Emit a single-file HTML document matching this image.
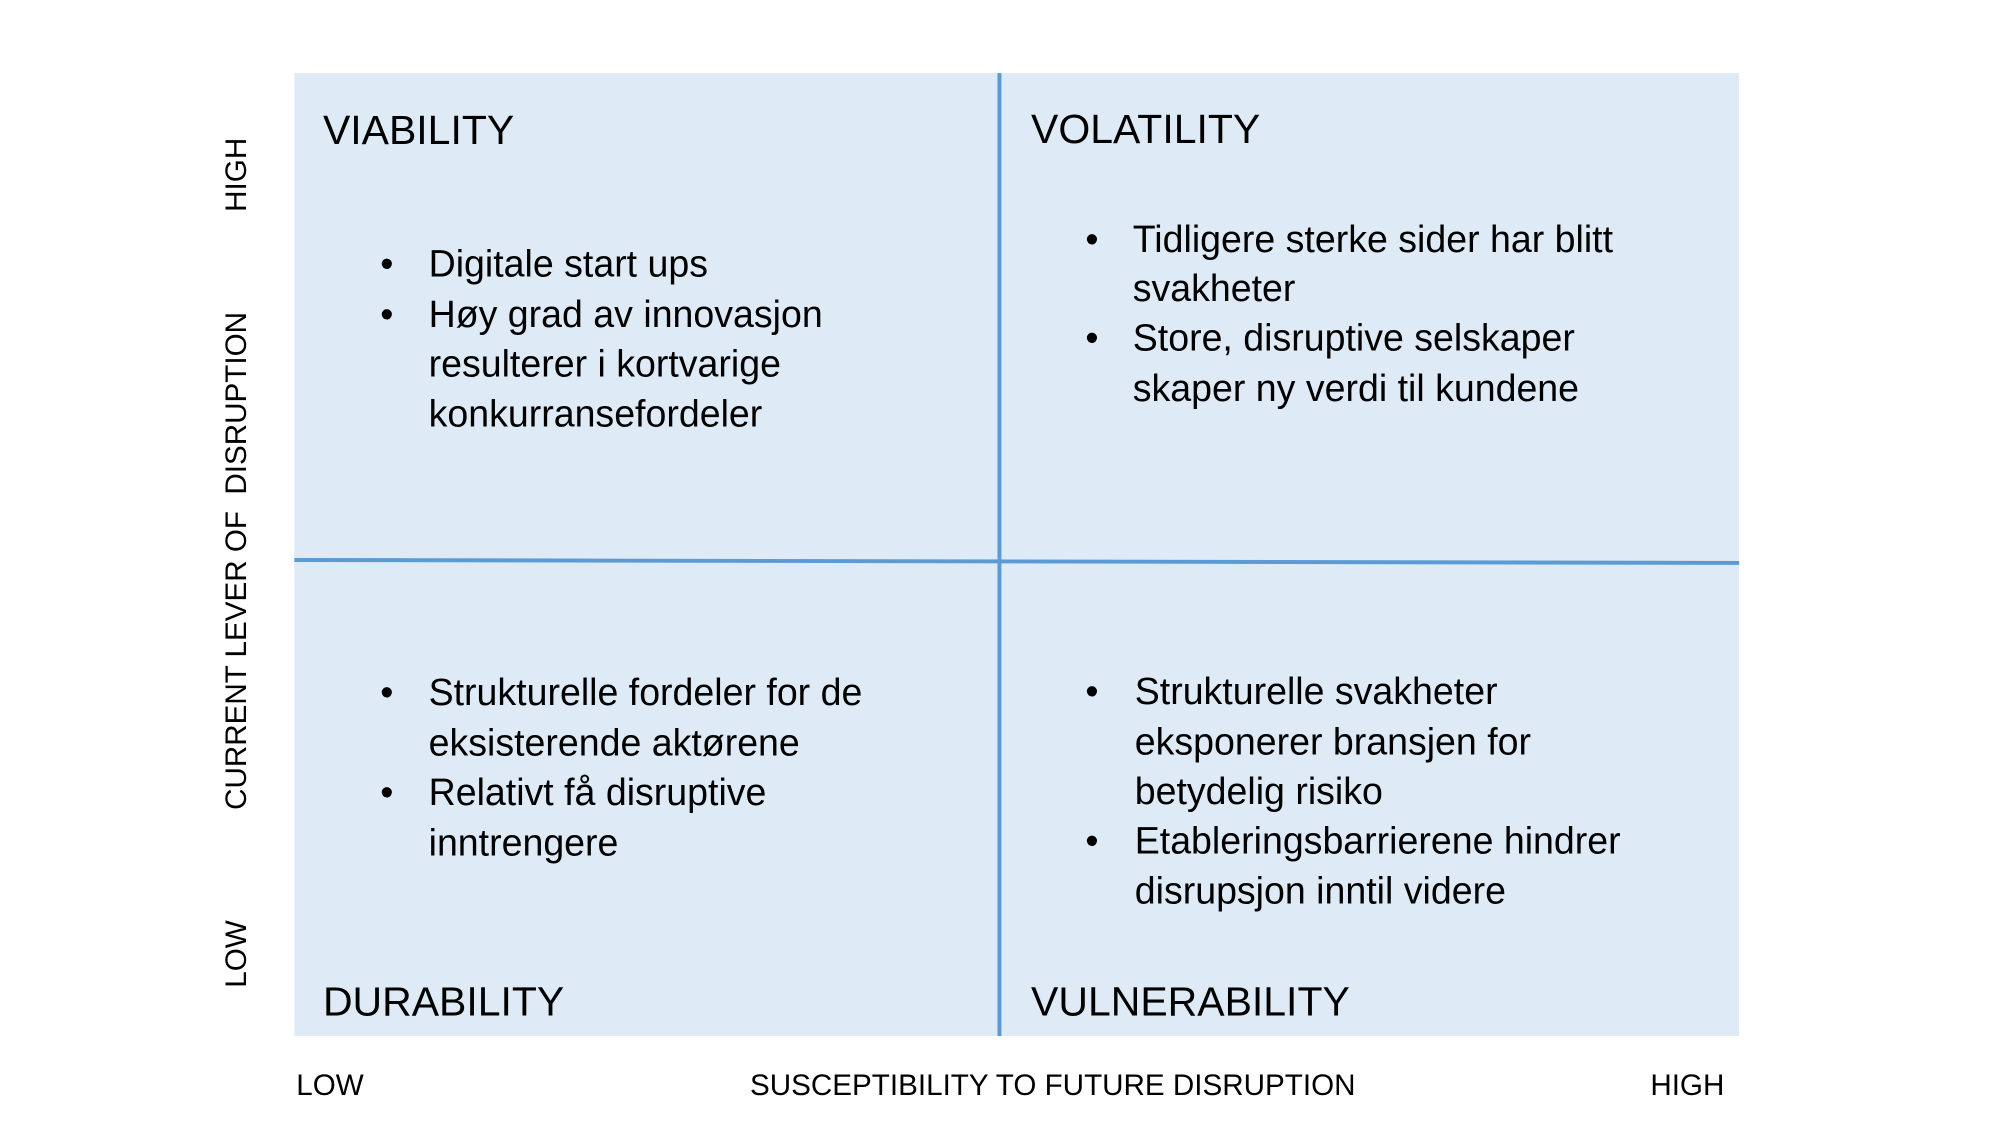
<!DOCTYPE html>
<html><head><meta charset="utf-8"><style>
html,body{margin:0;padding:0;background:#fff;}
svg{display:block;}
text{font-family:"Liberation Sans",sans-serif;fill:#000;}
</style></head><body>
<svg width="2000" height="1125" viewBox="0 0 2000 1125" xmlns="http://www.w3.org/2000/svg">
<g transform="scale(0.9876)">
<rect x="298" y="74" width="1463" height="975" fill="#DEEAF6"/>
<line x1="1012" y1="74" x2="1012" y2="1049" stroke="#5B9BD5" stroke-width="4"/>
<line x1="298" y1="567" x2="1761" y2="570" stroke="#5B9BD5" stroke-width="4"/>

<g font-size="41.5">
<text x="327" y="146">VIABILITY</text>
<text x="1044" y="145">VOLATILITY</text>
<text x="327" y="1028">DURABILITY</text>
<text x="1044" y="1028">VULNERABILITY</text>
</g>

<g font-size="38">
<text x="385" y="280">•</text><text x="434" y="280">Digitale start ups</text>
<text x="385" y="331">•</text><text x="434" y="331">Høy grad av innovasjon</text>
<text x="434" y="381">resulterer i kortvarige</text>
<text x="434" y="432">konkurransefordeler</text>

<text x="1099" y="255">•</text><text x="1147" y="255">Tidligere sterke sider har blitt</text>
<text x="1147" y="305">svakheter</text>
<text x="1099" y="355">•</text><text x="1147" y="355">Store, disruptive selskaper</text>
<text x="1147" y="406">skaper ny verdi til kundene</text>

<text x="385" y="714">•</text><text x="434" y="714">Strukturelle fordeler for de</text>
<text x="434" y="765">eksisterende aktørene</text>
<text x="385" y="815">•</text><text x="434" y="815">Relativt få disruptive</text>
<text x="434" y="866">inntrengere</text>

<text x="1099" y="713">•</text><text x="1149" y="713">Strukturelle svakheter</text>
<text x="1149" y="764">eksponerer bransjen for</text>
<text x="1149" y="814">betydelig risiko</text>
<text x="1099" y="864">•</text><text x="1149" y="864">Etableringsbarrierene hindrer</text>
<text x="1149" y="915">disrupsjon inntil videre</text>
</g>

<g font-size="30">
<text x="300" y="1109">LOW</text>
<text x="1066" y="1109" text-anchor="middle">SUSCEPTIBILITY TO FUTURE DISRUPTION</text>
<text x="1746" y="1109" text-anchor="end">HIGH</text>
<text transform="translate(249,177) rotate(-90)" text-anchor="middle">HIGH</text>
<text transform="translate(249,568) rotate(-90)" text-anchor="middle" xml:space="preserve">CURRENT LEVER OF  DISRUPTION</text>
<text transform="translate(249,966) rotate(-90)" text-anchor="middle">LOW</text>
</g>
</g>
</svg>
</body></html>
